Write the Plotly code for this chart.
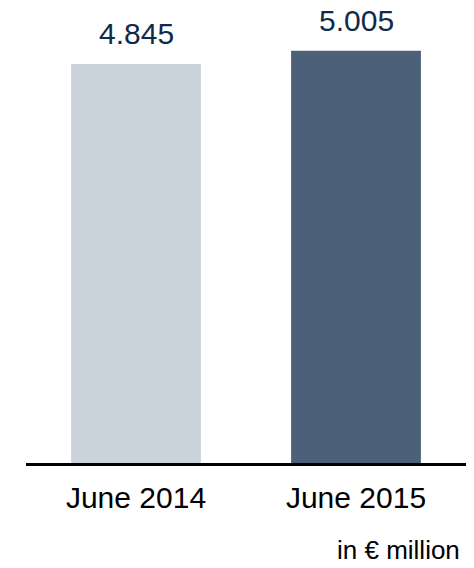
import plotly.graph_objects as go

categories = ["June 2014", "June 2015"]
values = [4.845, 5.005]
value_labels = ["4.845", "5.005"]
colors = ["#cbd3dc", "#4c6179"]

W, H = 474, 568
ml, mr, mt, mb = 26, 8, 20, 105

fig = go.Figure()
fig.add_trace(go.Bar(
    x=categories, y=values, marker=dict(color=colors, line=dict(width=0)),
    width=0.59, hoverinfo="skip",
))
for c, v, t in zip(categories, values, value_labels):
    fig.add_annotation(x=c, y=v, text=t, showarrow=False, yanchor="bottom",
                       yshift=12, font=dict(size=30, color="#0f2a4a",
                                            family="Arial, Liberation Sans"))
fig.add_annotation(xref="paper", yref="paper", x=1.0, y=0, xanchor="right",
                   yanchor="bottom", yshift=-104, xshift=-4,
                   text="in € million", showarrow=False,
                   font=dict(size=26, color="#000000", family="Arial, Liberation Sans"))

plot_h = H - mt - mb
fig.update_layout(
    width=W, height=H, margin=dict(l=ml, r=mr, t=mt, b=mb),
    paper_bgcolor="white", plot_bgcolor="white", showlegend=False,
    bargap=0.41,
    font=dict(family="Arial, Liberation Sans", color="#000000"),
    xaxis=dict(showline=True, linecolor="#000000", linewidth=3, ticks="",
               tickfont=dict(size=30, color="#000000"), ticklabelstandoff=6,
               showgrid=False, zeroline=False, fixedrange=True),
    yaxis=dict(visible=False, range=[0, plot_h / 82.35], showgrid=False,
               zeroline=False, fixedrange=True),
)
fig.write_html("out.html", config={"displayModeBar": False},
               post_script="document.body.style.margin='0';document.body.style.overflow='hidden';")
